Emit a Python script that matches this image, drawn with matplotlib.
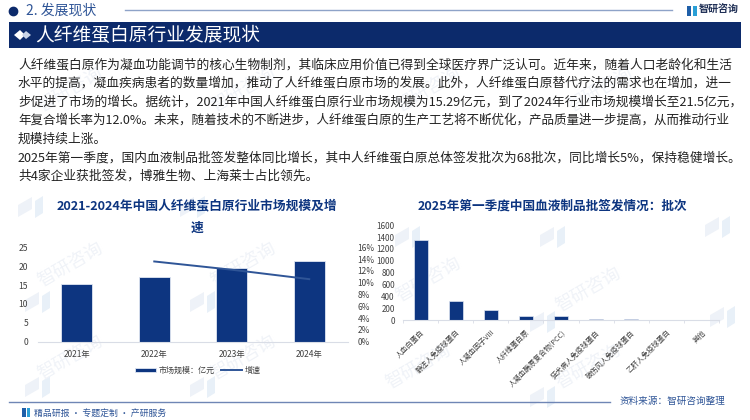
import matplotlib
matplotlib.use('Agg')
import matplotlib.pyplot as plt
from matplotlib.patches import Rectangle, Polygon

plt.rcParams['font.family'] = ['Noto Sans CJK SC', 'DejaVu Sans']
plt.rcParams['axes.unicode_minus'] = False

# dados dos graficos
anos = ['2021年', '2022年', '2023年', '2024年']
mercado = [15.29, 17.2, 19.4, 21.5]
anos_linha = [1, 2, 3]
crescimento = [13.6, 12.2, 10.6]
ticks_esq = [0, 5, 10, 15, 20, 25]
ticks_pct = [0, 2, 4, 6, 8, 10, 12, 14, 16]

produtos = ['人血白蛋白', '静注人免疫球蛋白', '人凝血因子VIII', '人纤维蛋白原',
            '人凝血酶原复合物(PCC)', '狂犬病人免疫球蛋白', '破伤风人免疫球蛋白',
            '乙肝人免疫球蛋白', '其他']
batches = [1360, 320, 165, 65, 75, 10, 25, 0, 0]
ticks_dir = [0, 200, 400, 600, 800, 1000, 1200, 1400, 1600]

linhas = [
    '人纤维蛋白原作为凝血功能调节的核心生物制剂，其临床应用价值已得到全球医疗界广泛认可。近年来，随着人口老龄化和生活',
    '水平的提高，凝血疾病患者的数量增加，推动了人纤维蛋白原市场的发展。此外，人纤维蛋白原替代疗法的需求也在增加，进一',
    '步促进了市场的增长。据统计，2021年中国人纤维蛋白原行业市场规模为15.29亿元，到了2024年行业市场规模增长至21.5亿元，',
    '年复合增长率为12.0%。未来，随着技术的不断进步，人纤维蛋白原的生产工艺将不断优化，产品质量进一步提高，从而推动行业',
    '规模持续上涨。',
    '2025年第一季度，国内血液制品批签发整体同比增长，其中人纤维蛋白原总体签发批次为68批次，同比增长5%，保持稳健增长。',
    '共4家企业获批签发，博雅生物、上海莱士占比领先。',
]

AZUL = '#0d3580'
AZUL_ESC = '#0c2a6b'
LINHA = '#2f5597'
CINZA = '#404040'

W, H = 750, 420
fig = plt.figure(figsize=(7.5, 4.2), dpi=100)


def eixo(x0, y0, x1, y1):
    # eixo a partir de pixels (y de cima para baixo)
    return fig.add_axes([x0 / W, 1 - y1 / H, (x1 - x0) / W, (y1 - y0) / H])


# camada de fundo em pixels
bg = fig.add_axes([0, 0, 1, 1])
bg.set_xlim(0, W)
bg.set_ylim(H, 0)
bg.axis('off')

# marca de agua
for wx, wy in [(70, 265), (243, 265), (70, 358), (243, 358), (428, 280), (588, 290),
               (418, 367), (588, 367), (70, 90), (243, 90), (428, 90), (600, 90)]:
    bg.text(wx, wy, '智研咨询', fontsize=13, color='#f0f3f8', rotation=30,
            ha='center', va='center')
for lx, ly in [(18, 205), (180, 205), (25, 300), (190, 300), (395, 235), (540, 235),
               (705, 225), (530, 320), (710, 315), (25, 385), (190, 385), (530, 395)]:
    bg.add_patch(Polygon([[lx, ly], [lx + 14, ly - 8], [lx + 14, ly + 4], [lx, ly + 12]],
                         color='#eef2f8', lw=0))
    bg.add_patch(Polygon([[lx + 17, ly - 4], [lx + 25, ly - 9], [lx + 25, ly + 8], [lx + 17, ly + 13]],
                         color='#e8f0f8', lw=0))

# cabecalho
bg.plot([13], [11], 'o', color=AZUL_ESC, ms=6)
bg.text(26, 11, '2. 发展现状', fontsize=10, color=LINHA, va='center')
bg.plot([125, 672], [10, 10], color='#8ea3c8', lw=1)
bg.add_patch(Rectangle((9, 22), 732, 26, color=AZUL_ESC, lw=0))
bg.add_patch(Polygon([[14, 35], [20, 30], [25, 35], [20, 40]], color='white', lw=0))
bg.add_patch(Polygon([[22, 35], [26, 31], [31, 35], [26, 39]], color='#c9d3e6', lw=0))
bg.text(35, 35, '人纤维蛋白原行业发展现状', fontsize=13.5, color='white', va='center')
bg.add_patch(Rectangle((687, 6), 4, 10, color='#1f5fa8', lw=0))
bg.add_patch(Rectangle((693, 6), 4, 10, color='#2a9fd6', lw=0))
bg.text(719, 9.5, '智研咨询', fontsize=7.2, color='#1f2f55', va='center', ha='center',
        fontweight='bold')

# texto
y_linhas = [65, 83, 102, 120, 139, 158, 176]
tamanhos = [9.15, 9.15, 9.15, 9.02, 9.15, 9.15, 9.15]
for y, t, tam in zip(y_linhas, linhas, tamanhos):
    bg.text(18, y, t, fontsize=tam, color='#222222', va='center')

# titulos
bg.text(197, 206, '2021-2024年中国人纤维蛋白原行业市场规模及增', fontsize=9.15,
        color=AZUL, fontweight='bold', ha='center', va='center')
bg.text(197, 228, '速', fontsize=9.15, color=AZUL, fontweight='bold', ha='center', va='center')
bg.text(552, 206, '2025年第一季度中国血液制品批签发情况：批次', fontsize=9.1,
        color=AZUL, fontweight='bold', ha='center', va='center')

# rodape
bg.plot([9, 610], [402, 402], color='#6f86b5', lw=1)
bg.add_patch(Rectangle((22, 408), 3.5, 9, color='#1f5fa8', lw=0))
bg.add_patch(Rectangle((26.5, 408), 3.5, 9, color='#2a9fd6', lw=0))
bg.text(34, 413, '精品研报 · 专题定制 · 产研服务', fontsize=6.4, color=LINHA, va='center')
bg.text(620, 401, '资料来源：智研咨询整理', fontsize=6.9, color=LINHA, va='center')

# grafico esquerdo
ax = eixo(38, 247.3, 348, 341.7)
ax.patch.set_alpha(0)
x = range(len(anos))
ax.bar(x, mercado, width=0.4, color=AZUL, edgecolor='#dfe6f2', lw=0.6, label='市场规模：亿元')
ax.set_xlim(-0.5, 3.5)
ax.set_ylim(0, 25)
ax.set_yticks(ticks_esq)
ax.set_xticks(list(x))
ax.set_xticklabels(anos)
ax.tick_params(axis='y', length=0, labelsize=6.2, labelcolor=CINZA, pad=7)
ax.tick_params(axis='x', length=0, labelsize=6, labelcolor=CINZA, pad=6)
for s in ['top', 'left', 'right']:
    ax.spines[s].set_visible(False)
ax.spines['bottom'].set_color('#d9dde6')

ax2 = ax.twinx()
ax2.plot(anos_linha, crescimento, color=LINHA, lw=1.4, label='增速')
ax2.set_ylim(0, 16)
ax2.set_yticks(ticks_pct)
ax2.set_yticklabels([f'{v}%' for v in ticks_pct])
ax2.tick_params(axis='y', length=0, labelsize=6, labelcolor=CINZA, pad=7)
for s in ax2.spines.values():
    s.set_visible(False)

h1, l1 = ax.get_legend_handles_labels()
h2, l2 = ax2.get_legend_handles_labels()
fig.legend(h1 + h2, l1 + l2, loc='center', bbox_to_anchor=(198 / W, 1 - 370 / H), ncol=2,
           frameon=False, fontsize=5.8, labelcolor=CINZA, handlelength=2.6, handleheight=0.4,
           columnspacing=0.8, handletextpad=0.3)

# grafico direito
ax3 = eixo(403, 225.3, 719, 320)
ax3.patch.set_alpha(0)
x3 = range(len(produtos))
ax3.bar(x3, batches, width=0.4, color=AZUL, edgecolor='#dfe6f2', lw=0.5)
ax3.set_xlim(-0.5, 8.5)
ax3.set_ylim(0, 1600)
ax3.set_yticks(ticks_dir)
ax3.tick_params(axis='y', length=0, labelsize=5.8, labelcolor=CINZA, pad=6)
ax3.set_xticks([i - 0.5 for i in range(10)], minor=True)
ax3.tick_params(axis='x', which='minor', length=2, color='#d9dde6')
ax3.set_xticks(list(x3))
ax3.set_xticklabels(produtos, rotation=45, ha='right', rotation_mode='anchor')
ax3.tick_params(axis='x', which='major', length=0, labelsize=5.2, labelcolor=CINZA, pad=6)
for s in ['top', 'left', 'right']:
    ax3.spines[s].set_visible(False)
ax3.spines['bottom'].set_color('#d9dde6')

fig.savefig('out.png', dpi=100)
